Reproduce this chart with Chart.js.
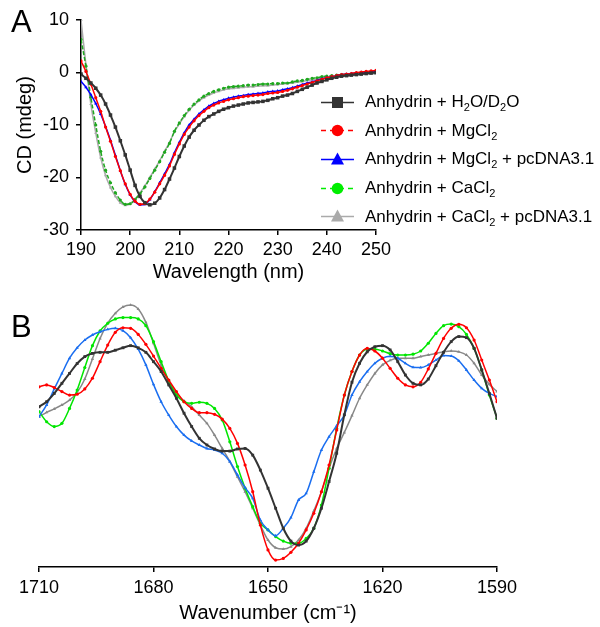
<!DOCTYPE html>
<html>
<head>
<meta charset="utf-8">
<script src="https://cdn.jsdelivr.net/npm/chart.js@4.4.1/dist/chart.umd.min.js"></script>
<style>
  html, body { margin: 0; padding: 0; background: #fff; }
  body { width: 600px; height: 627px; position: relative; overflow: hidden; font-family: "Liberation Sans", Arial, sans-serif; color: #000; }
  .wrap { position: absolute; left: 0; width: 600px; }
  #wrapA { top: 0; height: 290px; }
  #wrapB { top: 290px; height: 337px; }
  .panel { position: absolute; left: 11px; font-size: 31px; line-height: 31px; }
  #legend { position: absolute; left: 321px; top: 88px; font-size: 17px; }
  .row { height: 28.6px; display: flex; align-items: center; white-space: nowrap; }
  .row svg { margin-right: 11px; }
  sub { font-size: 11px; vertical-align: -4px; line-height: 0; }
</style>
</head>
<body>
<div class="wrap" id="wrapA"><canvas id="cd" width="600" height="290"></canvas></div>
<div class="wrap" id="wrapB"><canvas id="ftir" width="600" height="337"></canvas></div>
<div class="panel" style="top:6px">A</div>
<div class="panel" style="top:311px">B</div>
<div id="legend"></div>
<script>
// panel A: CD spectra
const wavelength = [190,191,192,193,194,195,196,197,198,199,200,201,202,203,204,205,206,207,208,209,
  210,211,212,213,214,215,216,217,218,219,220,221,222,223,224,225,226,227,228,229,
  230,231,232,233,234,235,236,237,238,239,240,241,242,243,244,245,246,247,248,249,250];
const cdWater = [-0.3,-1.1,-2.0,-3.0,-4.3,-6.0,-8.1,-10.4,-13.0,-15.7,-18.6,-21.5,-23.6,-24.8,-25.2,-24.9,-23.9,-22.3,-20.3,-18.2,
  -16.0,-14.0,-12.3,-11.0,-10.0,-9.1,-8.4,-7.9,-7.4,-7.0,-6.7,-6.4,-6.2,-6.0,-5.8,-5.7,-5.6,-5.5,-5.3,-5.0,
  -4.8,-4.5,-4.3,-4.0,-3.6,-3.2,-2.8,-2.4,-2.0,-1.7,-1.4,-1.1,-0.9,-0.7,-0.6,-0.5,-0.4,-0.3,-0.2,-0.1,0.0];
const cdMg = [2.2,0.2,-2.2,-4.8,-7.4,-10.4,-13.1,-16.0,-18.7,-21.2,-23.2,-24.5,-25.1,-25.0,-24.1,-22.8,-21.2,-19.6,-17.8,-15.6,
  -13.6,-11.8,-10.4,-9.2,-8.2,-7.4,-6.7,-6.2,-5.8,-5.5,-5.2,-5.0,-4.8,-4.6,-4.5,-4.4,-4.3,-4.2,-4.0,-3.9,
  -3.8,-3.6,-3.4,-3.1,-2.8,-2.5,-2.2,-1.9,-1.6,-1.3,-1.0,-0.8,-0.6,-0.4,-0.3,-0.2,0.0,0.1,0.2,0.3,0.4];
const cdMgDna = [-1.7,-2.8,-4.2,-5.9,-7.9,-10.3,-12.9,-15.8,-18.7,-21.3,-23.3,-24.6,-25.2,-25.1,-24.2,-22.7,-21.0,-19.3,-17.5,-15.3,
  -13.3,-11.5,-10.0,-8.9,-7.9,-7.1,-6.4,-5.9,-5.5,-5.2,-4.9,-4.7,-4.5,-4.4,-4.2,-4.1,-4.0,-3.9,-3.7,-3.6,
  -3.5,-3.3,-3.1,-2.9,-2.6,-2.3,-2.0,-1.8,-1.5,-1.2,-1.0,-0.8,-0.6,-0.4,-0.3,-0.2,-0.1,0.0,0.1,0.2,0.3];
const cdCa = [6.3,1.2,-4.7,-10.0,-15.0,-18.6,-21.0,-22.9,-24.3,-25.1,-25.0,-24.2,-23.1,-21.8,-20.2,-18.6,-17.0,-15.2,-13.5,-11.2,
  -9.6,-8.2,-7.0,-6.0,-5.2,-4.5,-4.0,-3.6,-3.3,-3.0,-2.8,-2.7,-2.6,-2.5,-2.4,-2.4,-2.3,-2.2,-2.2,-2.1,
  -2.1,-2.0,-2.0,-1.8,-1.6,-1.5,-1.3,-1.1,-1.0,-0.8,-0.7,-0.6,-0.5,-0.4,-0.4,-0.3,-0.2,-0.1,0.0,0.1,0.1];
const cdCaDna = [10.0,1.5,-6.0,-11.5,-16.2,-19.6,-21.9,-23.6,-24.8,-25.3,-25.0,-24.1,-22.9,-21.6,-20.0,-18.4,-16.8,-15.0,-13.3,-11.3,
  -9.8,-8.4,-7.2,-6.2,-5.4,-4.8,-4.3,-3.9,-3.6,-3.3,-3.1,-3.0,-2.9,-2.8,-2.7,-2.7,-2.6,-2.5,-2.5,-2.4,
  -2.3,-2.2,-2.1,-2.0,-1.8,-1.7,-1.5,-1.4,-1.3,-1.1,-1.0,-0.9,-0.8,-0.7,-0.6,-0.5,-0.5,-0.4,-0.3,-0.3,-0.2];
const xTicksA = [190,200,210,220,230,240,250];
const yTicksA = [10,0,-10,-20,-30];

// panel B: FTIR amide I band (arbitrary units)
const wavenumber = [1710,1708,1706,1704,1702,1700,1698,1696,1694,1692,1690,1688,1686,1684,1682,1680,1678,1676,1674,1672,
  1670,1668,1666,1664,1662,1660,1658,1656,1654,1652,1650,1648,1646,1644,1642,1640,1638,1636,1634,1632,
  1630,1628,1626,1624,1622,1620,1618,1616,1614,1612,1610,1608,1606,1604,1602,1600,1598,1596,1594,1592,1590];
const irWater = [60.0,61.9,65.0,68.8,72.5,76.2,78.8,80.0,80.4,80.4,81.2,82.1,82.9,82.1,80.4,76.9,73.2,68.2,63.2,57.6,
  52.6,48.2,45.7,44.2,43.4,43.4,44.2,44.4,41.9,36.3,29.5,22.0,14.5,9.7,8.2,9.7,14.5,22.0,32.0,42.6,
  57.0,69.2,76.3,80.6,82.5,82.9,81.3,76.9,71.9,68.8,68.2,70.4,75.4,80.4,84.4,86.3,85.9,81.9,73.8,65.0,55.7];
const irMg = [67.5,68.2,67.2,65.7,64.4,64.7,66.7,70.7,76.9,83.1,87.9,89.6,89.4,87.1,83.4,79.0,74.4,70.0,65.7,61.9,
  59.4,57.8,57.8,57.2,55.4,51.9,46.3,38.2,28.2,15.7,6.4,2.6,3.2,5.5,8.9,13.9,20.1,28.2,38.2,51.3,
  64.4,73.2,79.4,81.9,80.9,78.2,74.4,70.7,68.2,67.5,69.2,74.2,80.0,85.6,89.4,90.9,89.6,85.0,77.5,70.0,61.9];
const irMgDna = [56.3,60.7,66.7,72.5,78.2,82.1,85.0,86.9,88.1,89.0,89.4,88.5,85.9,81.6,75.7,68.4,61.9,56.9,52.6,49.4,
  47.2,45.7,44.4,43.8,42.6,39.5,34.5,29.7,25.7,17.6,13.9,11.7,14.5,18.5,25.1,27.6,35.7,43.8,48.8,52.9,
  56.9,64.4,69.4,73.2,76.3,78.2,78.9,78.2,76.3,74.8,74.7,75.7,77.5,79.2,79.0,77.2,73.8,70.0,66.9,65.0,63.8];
const irCa = [58.2,54.4,52.6,53.8,59.4,66.3,74.7,82.9,88.4,91.3,92.9,93.4,93.4,92.9,90.4,84.4,76.9,69.7,64.4,61.9,
  61.3,61.7,61.3,59.4,55.1,46.9,37.6,29.5,22.6,16.4,13.9,11.4,9.7,8.9,8.9,10.7,14.5,23.2,37.0,51.9,
  64.4,73.2,79.4,81.6,81.6,80.9,79.9,79.4,79.4,79.7,80.9,83.8,87.5,90.4,91.0,90.0,87.1,81.9,73.8,64.4,55.7];
const irCaDna = [56.3,57.9,59.2,60.7,62.5,65.4,70.4,77.9,85.6,91.3,95.0,97.4,98.1,96.6,91.6,83.8,75.7,69.4,65.0,62.2,
  60.0,56.9,53.8,49.4,44.4,39.5,33.8,28.2,22.0,15.7,10.1,7.2,6.7,7.6,10.1,14.5,21.0,28.2,37.0,44.4,
  50.4,56.7,63.2,68.2,72.5,75.7,77.4,78.2,78.2,78.2,78.8,79.4,80.0,80.6,80.9,80.6,79.4,76.3,71.9,68.4,65.7];
const xTicksB = [1710,1680,1650,1620,1590];

const seriesNames = ['Anhydrin + H₂O/D₂O', 'Anhydrin + MgCl₂', 'Anhydrin + MgCl₂ + pcDNA3.1',
  'Anhydrin + CaCl₂', 'Anhydrin + CaCl₂ + pcDNA3.1'];

// a = colour in panel A, b = panel B, key = legend swatch
const styles = [
  {a: '#333333', b: '#333333', key: '#333333', shape: 'rect', r: 2.5, w: 2, dashed: false},
  {a: '#ff0000', b: '#ff0000', key: '#ff0000', shape: 'circle', r: 1.6, w: 1.5, dashed: true},
  {a: '#0000ff', b: '#1a6ef0', key: '#0000ff', shape: 'triangle', r: 1.9, w: 1.5, dashed: false},
  {a: '#1fa81f', b: '#00e600', key: '#00ee00', shape: 'circle', r: 1.6, w: 1.5, dashed: true},
  {a: '#aaaaaa', b: '#888888', key: '#aaaaaa', shape: 'triangle', r: 1.9, w: 1.5, dashed: false}
];

Chart.defaults.font.family = '"Liberation Sans", Arial, sans-serif';
Chart.defaults.color = '#000';

function makeSets(xs, series, panel) {
  return series.map((ys, i) => {
    const s = styles[i];
    return {
      label: seriesNames[i],
      data: xs.map((x, j) => ({x: x, y: ys[j]})),
      borderColor: s[panel],
      backgroundColor: s[panel],
      borderWidth: s.w,
      // only the green CD trace shows visible dashes between its markers
      borderDash: panel === 'a' && i === 3 ? [4, 2] : [],
      pointStyle: s.shape,
      pointRadius: panel === 'b' && s.shape === 'rect' ? 2 : s.r,
      pointBorderWidth: 0,
      cubicInterpolationMode: 'monotone'
    };
  });
}

function axisBase(ticks) {
  return {
    type: 'linear',
    border: {display: true, color: '#000', width: 1.5},
    grid: {display: true, drawOnChartArea: false, drawTicks: true, tickLength: 5, color: '#000', lineWidth: 1.5},
    afterBuildTicks: sc => { sc.ticks = ticks.map(v => ({value: v})); },
    ticks: {font: {size: 18}, color: '#000', maxRotation: 0, autoSkip: false, callback: v => String(v)}
  };
}

const xA = axisBase(xTicksA);
Object.assign(xA, {min: 190, max: 250,
  title: {display: true, text: 'Wavelength (nm)', font: {size: 20}, padding: {top: 0, bottom: 6}},
  afterFit: sc => { sc.height = 60; }});
xA.ticks.padding = 4;

const yA = axisBase(yTicksA);
Object.assign(yA, {min: -30, max: 10,
  title: {display: true, text: 'CD (mdeg)', font: {size: 20}, padding: {top: 13, bottom: 0}},
  afterFit: sc => { sc.width = 81; }});
yA.ticks.padding = 7;

new Chart(document.getElementById('cd'), {
  type: 'line',
  data: {datasets: makeSets(wavelength, [cdWater, cdMg, cdMgDna, cdCa, cdCaDna], 'a')},
  options: {
    responsive: false, animation: false, devicePixelRatio: 1,
    layout: {padding: {top: 20, right: 224, bottom: 0, left: 0}},
    plugins: {legend: {display: false}, tooltip: {enabled: false}},
    scales: {x: xA, y: yA}
  }
});

const xB = axisBase(xTicksB);
Object.assign(xB, {min: 1590, max: 1710, reverse: true,
  title: {display: true, text: 'Wavenumber (cm⁻¹)', font: {size: 20}, padding: {top: 0, bottom: 2}},
  afterFit: sc => { sc.height = 60; }});
xB.ticks.padding = 5;

new Chart(document.getElementById('ftir'), {
  type: 'line',
  data: {datasets: makeSets(wavenumber, [irWater, irMg, irMgDna, irCa, irCaDna], 'b')},
  options: {
    responsive: false, animation: false, devicePixelRatio: 1,
    layout: {padding: {top: 10, right: 103, bottom: 0, left: 39}},
    plugins: {legend: {display: false}, tooltip: {enabled: false}},
    scales: {x: xB, y: {display: false, min: 0, max: 100}}
  }
});

// legend for panel A
const legend = document.getElementById('legend');
seriesNames.forEach((name, i) => {
  const s = styles[i];
  let mark;
  if (s.shape === 'rect') mark = `<rect x="11" y="5" width="11" height="11" fill="${s.key}"/>`;
  else if (s.shape === 'circle') mark = `<circle cx="16.5" cy="10.5" r="5.8" fill="${s.key}"/>`;
  else mark = `<polygon points="16.5,3.5 23,15.5 10,15.5" fill="${s.key}"/>`;
  const dash = s.dashed ? ' stroke-dasharray="5,4"' : '';
  const row = document.createElement('div');
  row.className = 'row';
  row.innerHTML = `<svg width="33" height="21"><line x1="0" y1="10.5" x2="33" y2="10.5" stroke="${s.key}" stroke-width="1.6"${dash}/>${mark}</svg>` +
    `<span>${name.replace(/₂/g, '<sub>2</sub>')}</span>`;
  legend.appendChild(row);
});
</script>
</body>
</html>
